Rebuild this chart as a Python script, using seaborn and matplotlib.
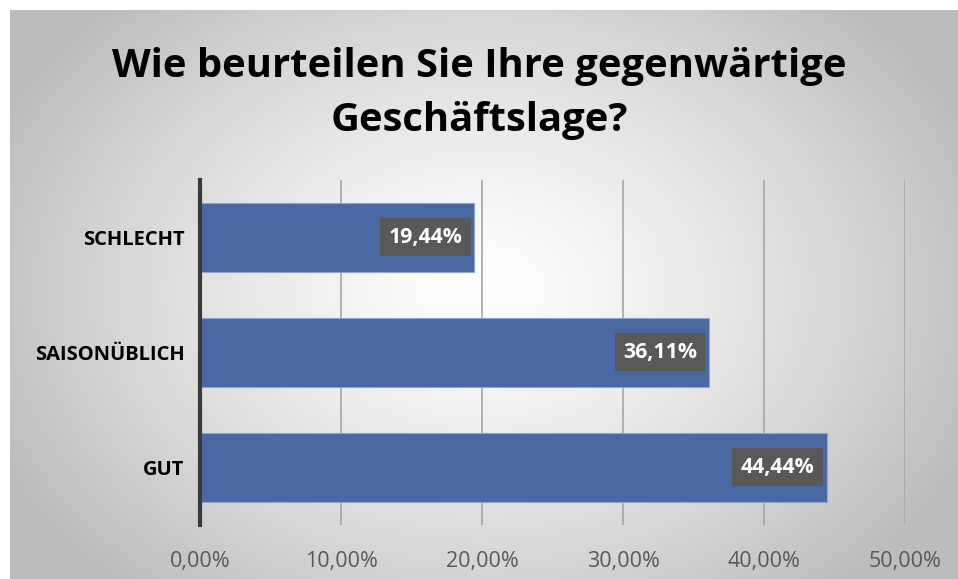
import numpy as np
import pandas as pd
import matplotlib
matplotlib.use("Agg")
import matplotlib.pyplot as plt
import seaborn as sns

categories = ["SCHLECHT", "SAISONÜBLICH", "GUT"]
values = [19.44, 36.11, 44.44]
tick_values = [0, 10, 20, 30, 40, 50]
tick_labels = ["0,00%", "10,00%", "20,00%", "30,00%", "40,00%", "50,00%"]
title = "Wie beurteilen Sie Ihre gegenwärtige\nGeschäftslage?"

sns.set_theme(style="white")
plt.rcParams["font.family"] = ["Open Sans", "DejaVu Sans"]

W, H = 958, 579
fig = plt.figure(figsize=(W / 100, H / 100), dpi=100)
fig.patch.set_facecolor("white")

# background radial gradient panel
bx0, by0 = 10, 10
bg = fig.add_axes([bx0 / W, 0, 1 - bx0 / W, 1 - by0 / H])
bg.set_axis_off()
yy, xx = np.mgrid[0:H - by0, 0:W - bx0]
cx, cy = 480 - bx0, 290 - by0
r = np.sqrt(((xx - cx) / 560.0) ** 2 + ((yy - cy) / 420.0) ** 2)
g = np.clip(1.0 - 0.28 * r ** 1.3, 0.74, 1.0)
img = np.dstack([g, g, g])
bg.imshow(img, aspect="auto", extent=[0, 1, 0, 1], origin="upper")
bg.set_xlim(0, 1)
bg.set_ylim(0, 1)

# main axes
x0, x1 = 200, 905
y_top, y_bot = 180, 524.5
ax = fig.add_axes([x0 / W, 1 - y_bot / H, (x1 - x0) / W, (y_bot - y_top) / H])
ax.patch.set_alpha(0)

df = pd.DataFrame({"cat": categories, "val": values})
sns.barplot(data=df, x="val", y="cat", orient="h", color="#4A69A3",
            width=0.6, ax=ax, saturation=1, edgecolor="#8fa5cc", linewidth=0.8)

ax.set_xlim(0, 50)
ax.set_ylim(2.5, -0.5)
ax.set_xticks(tick_values)
ax.set_xticklabels(tick_labels, fontsize=15.5, color="#595959")
ax.tick_params(axis="x", length=0, pad=19)
ax.tick_params(axis="y", length=0, pad=11)
ax.set_yticks(range(len(categories)))
ax.set_yticklabels(categories, fontsize=14.5, fontweight="bold", color="black")
ax.set_xlabel("")
ax.set_ylabel("")
for s in ["top", "right", "bottom"]:
    ax.spines[s].set_visible(False)
ax.spines["left"].set_color("#3a3a3a")
ax.spines["left"].set_linewidth(3)
ax.set_axisbelow(True)
for t in tick_values[1:]:
    ax.axvline(t, color="#a6a6a6", lw=1.2, zorder=0)

for i, v in enumerate(values):
    ax.text(v - 0.85, i, f"{v:.2f}%".replace(".", ","), ha="right", va="center",
            fontsize=15.3, fontweight="bold", color="white",
            bbox=dict(boxstyle="square,pad=0.4", fc="#595959", ec="none"))

fig.text(0.5, 1 - 93 / H, title, ha="center", va="center", fontsize=28.8,
         fontweight="bold", color="black", linespacing=1.5)

fig.savefig("out.png", dpi=100)
